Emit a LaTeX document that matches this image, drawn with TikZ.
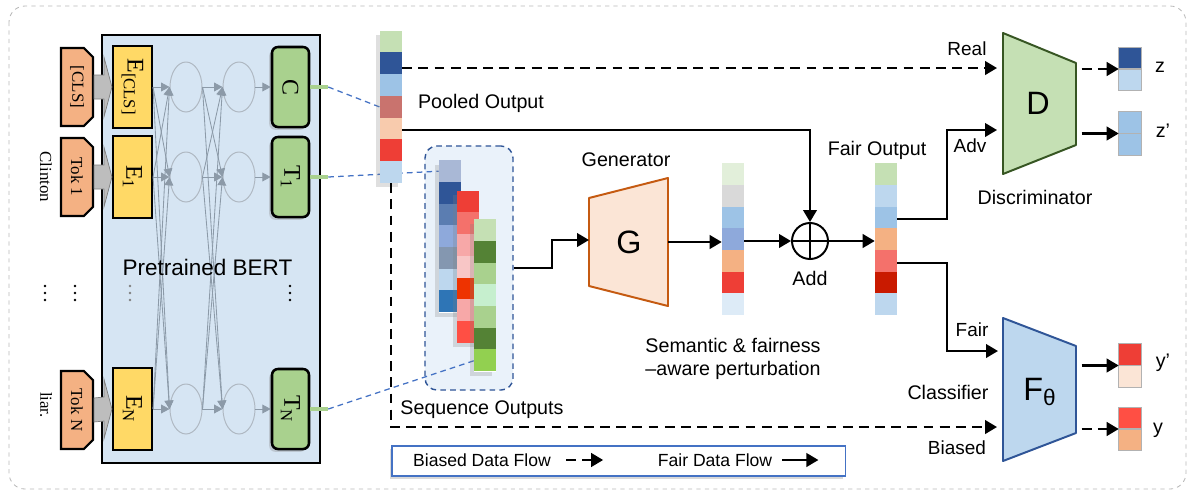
\documentclass[tikz,border=0pt]{standalone}
\usepackage{fontspec}
\setmainfont{Liberation Sans}
\newfontfamily\serif{Liberation Serif}
\usetikzlibrary{arrows.meta,calc,positioning,shapes.misc,shapes.geometric,shadows}

\pgfdeclarelayer{bg}
\pgfsetlayers{bg,main}

\definecolor{bertblue}{HTML}{D6E5F3}
\definecolor{tokorange}{HTML}{F4B183}
\definecolor{embyellow}{HTML}{FFD966}
\definecolor{outgreen}{HTML}{A9D18E}
\definecolor{netgray}{HTML}{8C9AA8}
\definecolor{arrowgray}{HTML}{BDBDBD}
\definecolor{dashblue}{HTML}{4472C4}
\definecolor{seqfill}{HTML}{EAF2FA}
\definecolor{genfill}{HTML}{FBE5D6}
\definecolor{genedge}{HTML}{C55A11}
\definecolor{discfill}{HTML}{C5E0B4}
\definecolor{discedge}{HTML}{375623}
\definecolor{clsfill}{HTML}{BDD7EE}
\definecolor{clsedge}{HTML}{2F5597}
\definecolor{zdark}{HTML}{2F5597}
\definecolor{zlight}{HTML}{BDD7EE}
\definecolor{zmid}{HTML}{9DC3E6}
\definecolor{yred}{HTML}{EE3E36}
\definecolor{ypeach}{HTML}{FBE5D6}
\definecolor{yredb}{HTML}{FF4F44}
\definecolor{yorange}{HTML}{F4B183}

\tikzset{
  frame/.style={draw=gray!55, dashed, line width=0.6pt, rounded corners=0.4cm},
  bertbox/.style={draw, line width=1.8pt, fill=bertblue, minimum width=5.45cm, minimum height=10.7cm},
  tok/.style={chamfered rectangle, chamfered rectangle corners={north east,south east},
    chamfered rectangle xsep=3pt, draw, line width=1.5pt, fill=tokorange,
    minimum width=0.8cm, minimum height=1.95cm, inner sep=0pt, font=\serif\fontsize{12}{14}\selectfont},
  emb/.style={draw, line width=1.5pt, fill=embyellow, minimum width=0.975cm, minimum height=2.05cm,
    inner sep=0pt, font=\serif\fontsize{17}{19}\selectfont},
  outbox/.style={draw, line width=1.8pt, fill=outgreen, rounded corners=0.15cm, minimum width=0.925cm,
    minimum height=2cm, inner sep=0pt, font=\serif\fontsize{17}{19}\selectfont,
    drop shadow={shadow xshift=-2pt, shadow yshift=-2pt, opacity=0.3}},
  neuron/.style={ellipse, draw=netgray!70, line width=0.7pt, minimum width=0.8cm, minimum height=1.25cm, inner sep=0pt},
  netarrow/.style={draw=netgray, line width=0.6pt, -{Triangle[length=0.21cm, width=0.22cm]}},
  blockarrow/.style={fill=arrowgray, draw=gray, line width=0.5pt, line join=miter},
  stub/.style={draw=outgreen, line width=2.5pt},
  link/.style={draw=dashblue, line width=0.9pt, dash pattern=on 4pt off 3pt},
  seqbox/.style={draw=clsedge, line width=1pt, dash pattern=on 4pt off 3pt, fill=seqfill, rounded corners=0.3cm,
    minimum width=2.2cm, minimum height=6.1cm},
  vecbox/.style={fill=white, minimum width=0.55cm, minimum height=3.8cm, inner sep=0pt},
  vecshadow/.style={drop shadow={shadow xshift=-3pt, shadow yshift=-3pt, opacity=0.25}},
  twobox/.style={minimum width=0.55cm, minimum height=1.075cm, inner sep=0pt},
  flow/.style={line width=1.5pt, -{Triangle[length=0.3cm, width=0.34cm]}},
  biased/.style={flow, line width=1.7pt, dash pattern=on 7pt off 4.5pt},
  genshape/.style={draw=genedge, fill=genfill, line width=1.4pt, line join=round},
  discshape/.style={draw=discedge, fill=discfill, line width=1.4pt, line join=round},
  clsshape/.style={draw=clsedge, fill=clsfill, line width=1.4pt, line join=round},
  bigletter/.style={font=\fontsize{23}{25}\selectfont},
  lab/.style={font=\fontsize{14}{16.3}\selectfont, inner sep=0pt},
  smalllab/.style={font=\fontsize{13.5}{15}\selectfont, inner sep=0pt},
  legtxt/.style={font=\fontsize{12.5}{14}\selectfont, inner sep=0pt},
  legendbox/.style={draw=dashblue, line width=0.8pt, fill=white, minimum width=11.325cm, minimum height=0.75cm,
    drop shadow={shadow xshift=-1.5pt, shadow yshift=-2pt, opacity=0.3}},
  addnode/.style={circle, draw, line width=1.4pt, minimum size=0.9cm, inner sep=0pt}
}

% column of coloured cells: name, centre, colours
\newcommand{\cellvec}[4][]{%
  \node[vecbox,#1] (#2) at (#3) {};
  \foreach \hex [count=\k] in {#4} {
    \edef\setcell{\noexpand\definecolor{cellfill}{HTML}{\hex}}\setcell
    \fill[cellfill] ($(#2.north west)+(0,{(\k-1)*21.714})$) rectangle ++(22,21.714);
  }
}
% two-cell output: name, centre, top colour, bottom colour
\newcommand{\twocell}[4]{%
  \node[twobox] (#1) at (#2) {};
  \fill[#3] (#1.north west) rectangle (#1.east);
  \fill[#4] (#1.west) rectangle (#1.south east);
  \draw[gray!60, line width=0.8pt] (#1.north west) rectangle (#1.south east) (#1.west) -- (#1.east);
}

\begin{document}
\begin{tikzpicture}[x=0.025cm, y=-0.025cm]
    \useasboundingbox (0,0) rectangle (1192,496);
    \draw[frame] (9,6) rectangle (1186,489);

    % BERT block
    \node[bertbox] (bert) at (211,249) {};
    \node[tok] (tokc) at (77,87) {\rotatebox{-90}{[CLS]}};
    \node[tok] (tok1) at (77,177) {\rotatebox{-90}{Tok 1}};
    \node[tok] (tokn) at (77,410) {\rotatebox{-90}{Tok N}};
    \node[emb] (ec) at (132.5,87) {\rotatebox{-90}{E\textsubscript{[CLS]}}};
    \node[emb] (e1) at (132.5,177) {\rotatebox{-90}{E\textsubscript{1}}};
    \node[emb] (en) at (132.5,409) {\rotatebox{-90}{E\textsubscript{N}}};
    \foreach \r/\y in {c/87,1/177,n/409} {
        \node[neuron] (p\r) at (186,\y) {};
        \node[neuron] (q\r) at (239,\y) {};
    }
    \node[outbox] (tc) at (290.5,87) {\rotatebox{-90}{C}};
    \node[outbox] (t1) at (290.5,177) {\rotatebox{-90}{T\textsubscript{1}}};
    \node[outbox] (tn) at (290.5,409) {\rotatebox{-90}{T\textsubscript{N}}};

    \foreach \r in {c,1,n} {
        \filldraw[blockarrow] ($(tok\r.east)+(0,-12)$) -- ($(e\r.west)+(-8,-12)$) -- ($(e\r.west)+(-8,-30)$)
            -- (e\r.west) -- ($(e\r.west)+(-8,30)$) -- ($(e\r.west)+(-8,12)$) -- ($(tok\r.east)+(0,12)$) -- cycle;
        \draw[netarrow] (q\r.east) -- (t\r.west);
        \foreach \s in {c,1,n} {
            \draw[netarrow] (e\r.east) -- (p\s.west);
            \draw[netarrow] (p\r.east) -- (q\s.west);
        }
    }
    \node[font=\fontsize{16}{18}\selectfont] (berttxt) at (207.5,267) {Pretrained BERT};
    % vertical dots
    \foreach \x/\c in {45/black,75/black,130/gray,290/black}
        \foreach \y in {286,293,300}
            \fill[\c] (\x,\y) circle (1.4);
    \node[font=\serif\fontsize{12}{14}\selectfont] (wclinton) at (46,177) {\rotatebox{-90}{Clinton}};
    \node[font=\serif\fontsize{12}{14}\selectfont] (wliar) at (46,405) {\rotatebox{-90}{liar.}};

    \coordinate (sc) at ($(tc.east)+(18,0)$);
    \coordinate (s1) at ($(t1.east)+(18,0)$);
    \coordinate (sn) at ($(tn.east)+(18,0)$);
    \draw[stub] (tc.east) -- (sc);
    \draw[stub] (t1.east) -- (s1);
    \draw[stub] (tn.east) -- (sn);

    % pooled and sequence outputs
    \cellvec[vecshadow]{pool}{391,107}{C5E0B4,2F5597,9DC3E6,C9736E,F8CBAD,EE3E36,BDD7EE}
    \cellvec[vecshadow]{v1}{450,236.5}{A9B8D6,2F5597,5B7DB1,8EA9DB,8497B0,BDD7EE,2E75B6}
    \cellvec[vecshadow]{v2}{468,267}{EE3E36,F4716B,F7A8A8,F8C6C6,EE3300,F7A8A8,FF4F44}
    \cellvec[vecshadow]{v3}{485,295.5}{C5E0B4,548235,A9D18E,C6EFCE,A9D18E,548235,92D050}
    \begin{pgfonlayer}{bg}
        \node[seqbox] (seqbox) at (469,268) {};
        \draw[link] (sc) -- (pool.west);
        \draw[link] (s1) -- ($(v1.north west)+(0,11)$);
        \draw[link] (sn) -- ($(v3.south west)+(0,-11)$);
    \end{pgfonlayer}
    \node[lab] (pooltxt) at (481,103) {Pooled Output};
    \node[lab] (seqtxt) at (482,410) {Sequence Outputs};

    % generator
    \draw[genshape] (589,198) -- (668,178) -- (668,306) -- (589,286) -- cycle;
    \node[bigletter] (glet) at (629,242) {G};
    \coordinate (gin) at (589,240);
    \coordinate (gout) at (668,242);
    \node[lab] (gentxt) at (626,160) {Generator};
    \cellvec{pert}{733,239.5}{E2EFDA,D9D9D9,9DC3E6,8EA9DB,F4B183,EE3E36,DDEBF7}
    \node[lab, align=center] (semtxt) at (733,358.5) {Semantic \& fairness\\–aware perturbation};
    \node[addnode] (add) at (810,241) {};
    \draw[line width=1.4pt] (add.north) -- (add.south) (add.west) -- (add.east);
    \node[lab] (addtxt) at (810,278) {Add};
    \cellvec{fair}{886,239.5}{C5E0B4,BDD7EE,9DC3E6,F4B183,F4716B,C91A00,BDD7EE}
    \node[lab] (fairtxt) at (877,150) {Fair Output};

    % discriminator and classifier
    \draw[discshape] (1003,33) -- (1076,63) -- (1076,145) -- (1003,174) -- cycle;
    \node[bigletter] (dlet) at (1038,103) {D};
    \node[lab] (disctxt) at (1035,197) {Discriminator};
    \draw[clsshape] (1003,318) -- (1076,346) -- (1076,433) -- (1003,461) -- cycle;
    \node[bigletter] (flet) at (1040,392) {F\textsubscript{θ}};
    \node[lab] (clstxt) at (948,392) {Classifier};
    \coordinate (dreal) at (997,68);
    \coordinate (dadv) at (997,130);
    \coordinate (ffair) at (998,351);
    \coordinate (fbias) at (997,427);

    \twocell{z}{1130,69}{zdark}{zlight}
    \twocell{zp}{1130,133.5}{zmid}{zmid}
    \twocell{yp}{1130,365.5}{yred}{ypeach}
    \twocell{yy}{1130,429}{yredb}{yorange}
    \node[lab] (ztxt) at (1160,67) {z};
    \node[lab] (zptxt) at (1163,131) {z’};
    \node[lab] (yptxt) at (1163,363) {y’};
    \node[lab] (yytxt) at (1158,430) {y};

    % data flows
    \draw[biased] ($(pool.east)+(0,-39)$) -- (dreal);
    \draw[flow] ($(pool.east)+(0,23)$) -| (add.north);
    \draw[biased] (pool.south) |- (fbias);
    \draw[flow] (seqbox.east) -- ++(38,0) |- (gin);
    \draw[flow] (gout) -- (gout -| pert.west);
    \draw[flow] (pert.east |- add.west) -- (add.west);
    \draw[flow] (add.east) -- (add.east -| fair.west);
    \draw[flow] ($(fair.east)+(0,-20.5)$) -| ($(dadv)+(-50,0)$) -- (dadv);
    \draw[flow] ($(fair.east)+(0,23.5)$) -| ($(ffair)+(-51,0)$) -- (ffair);
    \draw[biased] ($(z.west)+(-37,0)$) -- (z.west);
    \draw[flow] ($(zp.west)+(-37,0)$) -- (zp.west);
    \draw[flow] ($(yp.west)+(-37,0)$) -- (yp.west);
    \draw[biased] ($(yy.west)+(-37,0)$) -- (yy.west);
    \node[smalllab] (realtxt) at (967,49) {Real};
    \node[smalllab] (advtxt) at (970,146) {Adv};
    \node[smalllab] (fairin) at (972,330) {Fair};
    \node[smalllab] (biastxt) at (957,448) {Biased};

    % legend
    \node[legendbox] (legend) at (618.5,461) {};
    \node[legtxt] (legb) at (482,460) {Biased Data Flow};
    \draw[biased] ($(legb.east)+(15,0)$) -- ++(37,0);
    \node[legtxt] (legf) at (715,460) {Fair Data Flow};
    \draw[flow] ($(legf.east)+(10,0)$) -- ++(36,0);
\end{tikzpicture}
\end{document}
